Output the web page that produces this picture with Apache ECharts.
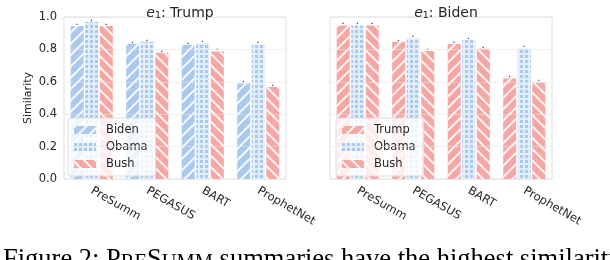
<!DOCTYPE html>
<html><head><meta charset="utf-8">
<script src="https://cdn.jsdelivr.net/npm/echarts@6/dist/echarts.min.js"></script>
<style>html,body{margin:0;padding:0;background:#fff}#c{width:610px;height:260px}</style>
</head><body><div id="c"></div>
<script>
var categories = ['PreSumm', 'PEGASUS', 'BART', 'ProphetNet'];
var yTicks = [0.0, 0.2, 0.4, 0.6, 0.8, 1.0];
// Panel e1: Trump
var trumpPanelBiden = [0.945, 0.835, 0.828, 0.59];
var trumpPanelObama = [0.97, 0.847, 0.84, 0.83];
var trumpPanelBush = [0.945, 0.78, 0.787, 0.568];
// Panel e1: Biden
var bidenPanelTrump = [0.948, 0.847, 0.834, 0.62];
var bidenPanelObama = [0.948, 0.871, 0.859, 0.805];
var bidenPanelBush = [0.948, 0.79, 0.804, 0.595];

var BLUE = '#a9c9ef', PINK = '#f6a6a3';
var FONT = 'DejaVu Sans';
var slashDecal = {symbol: 'rect', symbolSize: 1, color: 'rgba(255,255,255,0.9)', dashArrayX: [1, 0], dashArrayY: [1.5, 5.5], rotation: -Math.PI / 4};
var backDecal = {symbol: 'rect', symbolSize: 1, color: 'rgba(255,255,255,0.9)', dashArrayX: [1, 0], dashArrayY: [1.5, 5.5], rotation: Math.PI / 4};
var gridDecal = {symbol: 'rect', symbolSize: 1, color: BLUE, dashArrayX: [3, 1.2], dashArrayY: [3, 1.2], rotation: 0};

function mkSeries(name, data, color, decal, axisIdx, bgColor) {
  return {
    name: name, type: 'bar', data: data, xAxisIndex: axisIdx, yAxisIndex: axisIdx,
    barWidth: 13, barGap: '12%',
    itemStyle: {color: bgColor || color, decal: decal},
    label: {show: true, position: 'top', distance: -1, formatter: '\u25AA', fontSize: 5, color: '#444'},
    emphasis: {disabled: true}
  };
}
function titleRich(name) {
  return {
    text: '{i|e}{s|1}{n|: ' + name + '}',
    textStyle: {fontWeight: 'normal', rich: {
      i: {fontFamily: FONT, fontStyle: 'italic', fontWeight: 'normal', fontSize: 14, color: '#262626'},
      s: {fontFamily: FONT, fontWeight: 'normal', fontSize: 9.5, color: '#262626', verticalAlign: 'bottom', padding: [6, 0, 0, 0]},
      n: {fontFamily: FONT, fontWeight: 'normal', fontSize: 14, color: '#262626'}
    }}
  };
}
var legendCommon = {
  orient: 'vertical', top: 118, itemWidth: 22, itemHeight: 8, itemGap: 5, icon: 'rect',
  padding: [6, 8, 6, 6], backgroundColor: 'rgba(255,255,255,0.8)', borderColor: '#dcdcdc', borderWidth: 1, borderRadius: 3,
  textStyle: {fontFamily: FONT, fontSize: 11.5, color: '#262626', padding: [0, 0, 0, 5]},
  selectedMode: false
};
function xAx(idx) {
  return {type: 'category', gridIndex: idx, data: categories,
    axisLine: {show: false}, axisTick: {show: false},
    axisLabel: {rotate: -30, margin: 11, fontFamily: FONT, fontSize: 11.5, color: '#262626'}};
}
function yAx(idx, showLabels) {
  return {type: 'value', gridIndex: idx, min: 0, max: 1, interval: 0.2, z: 5,
    name: showLabels ? 'Similarity' : '', nameLocation: 'middle', nameGap: 30,
    nameTextStyle: {fontFamily: FONT, fontSize: 11, color: '#262626'},
    axisLine: {show: false}, axisTick: {show: false},
    splitLine: {lineStyle: {color: 'rgba(230,230,230,0.55)', width: 1}},
    axisLabel: {show: showLabels, margin: 7, fontFamily: FONT, fontSize: 11.5, color: '#262626',
      formatter: function (v) { return yTicks.indexOf(Math.round(v * 10) / 10) >= 0 ? v.toFixed(1) : ''; }}};
}
var chart = echarts.init(document.getElementById('c'), null, {renderer: 'canvas'});
var t1 = titleRich('Trump'); t1.left = 175; t1.top = 0; t1.textAlign = 'center';
var t2 = titleRich('Biden'); t2.left = 441; t2.top = 0; t2.textAlign = 'center';
chart.setOption({
  animation: false,
  aria: {enabled: true, decal: {show: true}},
  title: [t1, t2],
  grid: [
    {left: 64, right: 324, top: 17, bottom: 81, show: true, borderColor: '#dedede', borderWidth: 1},
    {left: 330, right: 58, top: 17, bottom: 81, show: true, borderColor: '#dedede', borderWidth: 1}
  ],
  legend: [
    Object.assign({}, legendCommon, {left: 68, data: ['Biden', 'Obama', 'Bush']}),
    Object.assign({}, legendCommon, {left: 336, data: ['Trump', 'Obama', 'Bush']})
  ],
  xAxis: [xAx(0), xAx(1)],
  yAxis: [yAx(0, true), yAx(1, false)],
  series: [
    mkSeries('Biden', trumpPanelBiden, BLUE, slashDecal, 0),
    mkSeries('Obama', trumpPanelObama, BLUE, gridDecal, 0, '#e3eefb'),
    mkSeries('Bush', trumpPanelBush, PINK, backDecal, 0),
    mkSeries('Trump', bidenPanelTrump, PINK, slashDecal, 1),
    mkSeries('Obama', bidenPanelObama, BLUE, gridDecal, 1, '#e3eefb'),
    mkSeries('Bush', bidenPanelBush, PINK, backDecal, 1)
  ],
  graphic: [{
    type: 'text', left: 3, top: 247,
    style: {
      text: '{n|Figure 2: P}{sc|RE}{n|S}{sc|UMM}{n| summaries have the highest similarity}',
      rich: {
        n: {fontFamily: 'Liberation Serif', fontSize: 26.5, color: '#000', verticalAlign: 'bottom'},
        sc: {fontFamily: 'Liberation Serif', fontSize: 20.5, color: '#000', verticalAlign: 'bottom', padding: [0, 0, 1, 0]}
      }
    }
  }]
});
</script></body></html>
